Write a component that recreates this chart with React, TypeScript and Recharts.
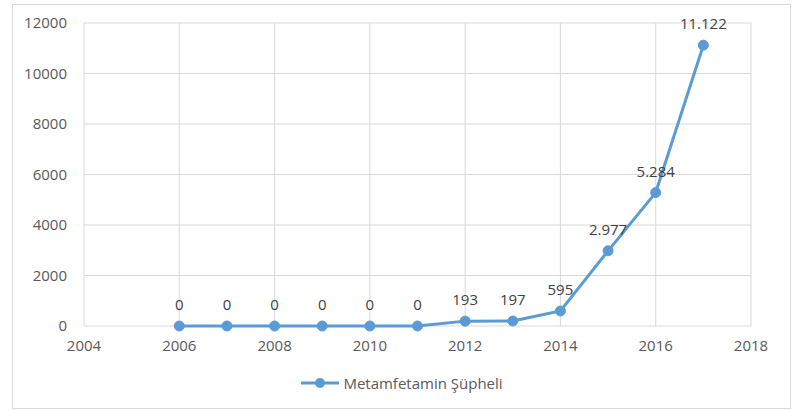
import { LineChart, Line, XAxis, YAxis, CartesianGrid, Legend, LabelList } from "recharts";

const years = [2006, 2007, 2008, 2009, 2010, 2011, 2012, 2013, 2014, 2015, 2016, 2017];
const suspects = [0, 0, 0, 0, 0, 0, 193, 197, 595, 2977, 5284, 11122];
const xTicks = [2004, 2006, 2008, 2010, 2012, 2014, 2016, 2018];
const yTicks = [0, 2000, 4000, 6000, 8000, 10000, 12000];
const seriesName = "Metamfetamin Şüpheli";

const data = years.map((year, i) => ({ year, value: suspects[i] }));

const blue = "#5b9bd5";
const textColor = "#595959";
const font = "'Open Sans', sans-serif";

// Turkish thousands separator: 11122 -> 11.122
const fmt = (v: any) => String(v).replace(/\B(?=(\d{3})+(?!\d))/g, ".");

function LegendContent() {
  return (
    <div style={{ display: "flex", justifyContent: "center", alignItems: "center", fontFamily: font, fontSize: 15, color: textColor }}>
      <svg width={40} height={12} style={{ marginRight: 3 }}>
        <line x1={1} y1={6} x2={39} y2={6} stroke={blue} strokeWidth={3} />
        <circle cx={20} cy={6} r={5} fill={blue} />
      </svg>
      <span>{seriesName}</span>
    </div>
  );
}

export default function App() {
  return (
    <div style={{ position: "absolute", left: 0, top: 0, width: 803, height: 410, background: "#fff" }}>
      <div
        style={{
          position: "absolute",
          left: 12,
          top: 4,
          width: 777,
          height: 403,
          border: "1px solid #d9d9d9",
        }}
      />
      <LineChart
        width={803}
        height={410}
        data={data}
        margin={{ top: 23, right: 52, bottom: 54, left: 0 }}
        style={{ position: "absolute", left: 0, top: 0, fontFamily: font }}
      >
        <CartesianGrid stroke="#d9d9d9" strokeWidth={1} />
        <XAxis
          dataKey="year"
          type="number"
          domain={[2004, 2018]}
          ticks={xTicks}
          axisLine={false}
          tickLine={false}
          tickSize={0}
          tickMargin={14}
          height={30}
          tick={{ fill: textColor, fontSize: 15 }}
        />
        <YAxis
          domain={[0, 12000]}
          ticks={yTicks}
          axisLine={false}
          tickLine={false}
          tickSize={0}
          tickMargin={17}
          width={84}
          tick={{ fill: textColor, fontSize: 15 }}
        />
        <Legend
          layout="horizontal"
          verticalAlign="middle"
          align="center"
          wrapperStyle={{ top: 373, left: 0, width: 803 }}
          content={<LegendContent />}
        />
        <Line
          dataKey="value"
          name={seriesName}
          stroke={blue}
          strokeWidth={3}
          dot={{ r: 5, fill: blue, stroke: blue, strokeWidth: 1 }}
          isAnimationActive={false}
        >
          <LabelList dataKey="value" position="top" offset={16} formatter={fmt} fill="#404040" fontSize={15} />
        </Line>
      </LineChart>
    </div>
  );
}
